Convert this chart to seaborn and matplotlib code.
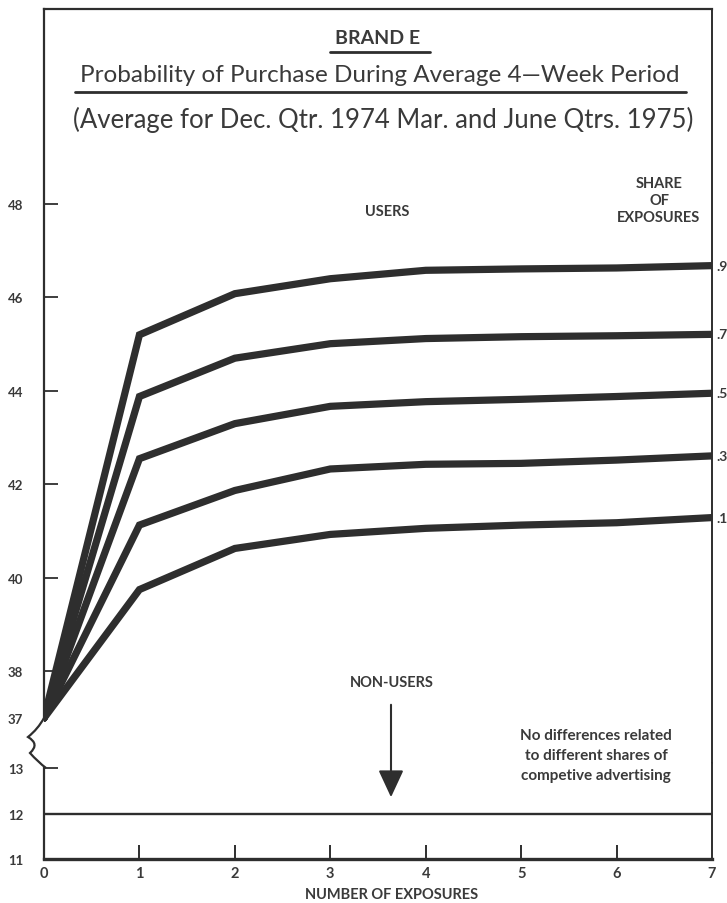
import numpy as np
import pandas as pd
import seaborn as sns
import matplotlib.pyplot as plt
from matplotlib.path import Path
from matplotlib.patches import PathPatch, FancyArrowPatch

# data
exposures = [0, 1, 2, 3, 4, 5, 6, 7]
shares = [".9", ".7", ".5", ".3", ".1"]
users = {
    ".9": [37.0, 45.2, 46.08, 46.4, 46.58, 46.61, 46.63, 46.68],
    ".7": [37.0, 43.88, 44.7, 45.01, 45.12, 45.16, 45.18, 45.21],
    ".5": [37.0, 42.55, 43.3, 43.67, 43.77, 43.82, 43.88, 43.95],
    ".3": [37.0, 41.13, 41.87, 42.33, 42.43, 42.45, 42.52, 42.61],
    ".1": [37.0, 39.75, 40.63, 40.93, 41.06, 41.13, 41.18, 41.29],
}
non_users = [12.0, 12.0, 12.0, 12.0, 12.0, 12.0, 12.0, 12.0]
upper_ticks = [38, 40, 42, 44, 46, 48]
lower_ticks = [11, 12, 13]

sns.set_theme(style="white")
plt.rcParams['font.family'] = ['Lato', 'DejaVu Sans']
ink = "#2e2e2e"
txt = "#3a3a3a"

df = pd.DataFrame([(s, x, y) for s in shares for x, y in zip(exposures, users[s])],
                  columns=["share", "exposures", "prob"])
df_non = pd.DataFrame({"exposures": exposures, "prob": non_users})

fig = plt.figure(figsize=(7.27, 9.04), dpi=100)
W, H = 727, 904
left, right = 44 / W, 712 / W
ax = fig.add_axes([left, 1 - 764 / H, right - left, (764 - 10) / H])
ax2 = fig.add_axes([left, 1 - 860 / H, right - left, (860 - 764) / H])

sns.lineplot(data=df, x="exposures", y="prob", hue="share",
             palette=[ink] * len(shares), linewidth=5.2, legend=False, ax=ax,
             solid_joinstyle="miter")
sns.lineplot(data=df_non, x="exposures", y="prob", color=ink, linewidth=1.7, ax=ax2)

ax.set_xlim(0, 7)
ax.set_ylim(36.04, 52.17)
ax2.set_xlim(0, 7)
ax2.set_ylim(11, 13.11)

for a in (ax, ax2):
    a.set_xlabel("")
    a.set_ylabel("")
    for sp in a.spines.values():
        sp.set_color(ink)
    a.spines['left'].set_linewidth(1.6)
    a.spines['right'].set_linewidth(1.4)

ax.spines['bottom'].set_visible(False)
ax.spines['left'].set_bounds(37, 52.17)
ax.spines['top'].set_linewidth(1.6)
ax.set_xticks([])
ax.set_yticks(upper_ticks + [37])
ax.set_yticklabels([str(t) for t in upper_ticks] + ["37"], fontweight="bold")
ax.tick_params(axis='y', left=True, direction='in', length=10, width=1.3,
               color=ink, labelcolor=txt, labelsize=9.5, pad=15)
ax.yaxis.get_major_ticks()[-1].tick1line.set_visible(False)

ax2.spines['top'].set_visible(False)
ax2.spines['left'].set_bounds(11, 13)
ax2.spines['bottom'].set_linewidth(2.4)
ax2.set_yticks(lower_ticks)
ax2.set_yticklabels([str(t) for t in lower_ticks], fontweight="bold")
ax2.tick_params(axis='y', left=True, direction='in', length=10, width=1.3,
                color=ink, labelcolor=txt, labelsize=9.5, pad=15)
ax2.yaxis.get_major_ticks()[0].tick1line.set_visible(False)
ax2.yaxis.get_major_ticks()[1].tick1line.set_visible(False)
ax2.set_xticks(exposures)
ax2.set_xticklabels([str(e) for e in exposures], fontweight="bold")
ax2.tick_params(axis='x', bottom=True, direction='in', length=10, width=1.4,
                color=ink, labelcolor=txt, labelsize=10.5, pad=5)
ax2.xaxis.get_major_ticks()[0].tick1line.set_visible(False)
ax2.xaxis.get_major_ticks()[-1].tick1line.set_visible(False)

# broken-axis squiggle
sq = [(44, 719), (38, 730), (28, 738), (40, 745), (30, 754), (38, 763), (46, 769)]
verts = [(x / W, 1 - y / H) for x, y in sq]
codes = [Path.MOVETO] + [Path.CURVE3] * 6
fig.add_artist(PathPatch(Path(verts, codes), transform=fig.transFigure,
                         fill=False, edgecolor=ink, linewidth=1.6))

# titles
fig.text(378 / W, 1 - 38 / H, "BRAND E", ha="center", va="center",
         fontsize=14, fontweight="bold", color=txt)
fig.add_artist(plt.Line2D([330 / W, 430 / W], [1 - 53 / H] * 2, color=ink, lw=2))
fig.text(380 / W, 1 - 76 / H, "Probability of Purchase During Average 4\u2014Week Period",
         ha="center", va="center", fontsize=17.5, color=txt)
fig.add_artist(plt.Line2D([75 / W, 686 / W], [1 - 93 / H] * 2, color=ink, lw=2))
fig.text(383 / W, 1 - 120 / H, "(Average for Dec. Qtr. 1974 Mar. and June Qtrs. 1975)",
         ha="center", va="center", fontsize=18.5, color=txt)

ax.text(3.6, 47.85, "USERS", ha="center", va="center", fontsize=10.5,
        fontweight="bold", color=txt)
fig.text(659 / W, 1 - 201 / H, "SHARE\nOF\nEXPOSURES", ha="center", va="center",
         fontsize=10.5, fontweight="bold", color=txt, linespacing=1.25)
for s in shares:
    ax.text(7.05, users[s][-1], s, ha="left", va="center", fontsize=10,
            fontweight="bold", color=txt, clip_on=False)

fig.text(392 / W, 1 - 683 / H, "NON-USERS", ha="center", va="center",
         fontsize=10.5, fontweight="bold", color=txt)
fig.add_artist(FancyArrowPatch(
    (391 / W, 1 - 703 / H), (391 / W, 1 - 801 / H), transform=fig.transFigure,
    arrowstyle="-|>,head_length=1.4,head_width=0.65", color=ink, lw=1.5,
    mutation_scale=12))
fig.text(596 / W, 1 - 756 / H,
         "No differences related\nto different shares of\ncompetive advertising",
         ha="center", va="center", fontsize=11, fontweight="bold", color=txt,
         linespacing=1.55)

fig.text(392 / W, 1 - 895 / H, "NUMBER OF EXPOSURES", ha="center", va="center",
         fontsize=10.5, fontweight="bold", color=txt)

fig.savefig("out.png", dpi=100, facecolor="white")
